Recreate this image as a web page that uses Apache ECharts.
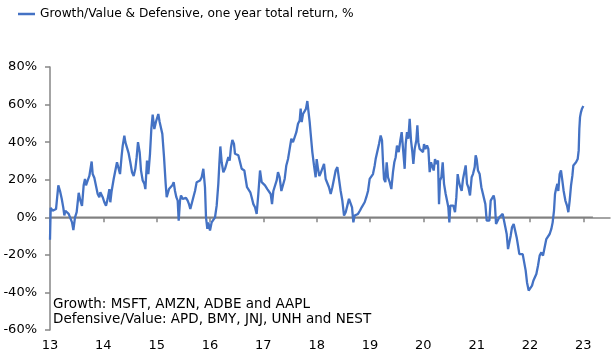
<!DOCTYPE html>
<html><head><meta charset="utf-8">
<script src="https://cdn.jsdelivr.net/npm/echarts@6/dist/echarts.min.js"></script>
<style>html,body{margin:0;padding:0;background:#fff}#c{width:612px;height:358px}</style>
</head><body><div id="c"></div>
<script>
const baseYear = 2013;
const xTickYears = [2013,2014,2015,2016,2017,2018,2019,2020,2021,2022,2023];
const yMin = -60, yMax = 80, yStep = 20;
const seriesName = 'Growth/Value & Defensive, one year total return, %';
const noteLines = ['Growth: MSFT, AMZN, ADBE and AAPL', 'Defensive/Value: APD, BMY, JNJ, UNH and NEST'];

// years since start of 2013
const t2013 = [0,0.013,0.05,0.081,0.113,0.156,0.188,0.219,0.25,0.269,0.288,0.319,0.35,0.381,0.413,0.438,0.469,0.5,0.538,0.569,0.6,0.631,0.656,0.675,0.706,0.738,0.781,0.8,0.831,0.863,0.894,0.925,0.944,0.988];
const v2013 = [-12,5,3.5,2.7,4.4,17,14,10,5,1,3.5,2.7,1.8,1.4,-2.7,-6.8,0,2.7,13,9,6,17,20.4,17,19.5,22,29.7,23,21,22,12.4,10.7,13.3,10.7];
const t2014 = [1.019,1.05,1.081,1.113,1.131,1.156,1.194,1.225,1.256,1.288,1.313,1.344,1.363,1.394,1.413,1.444,1.475,1.506,1.538,1.569,1.6,1.625,1.65,1.681,1.706,1.738,1.769,1.788,1.819,1.844,1.875,1.9,1.925,1.956,1.988];
const v2014 = [8,6.2,9.8,15,8,14,20.4,21.3,29.3,29.3,23,33,38,43.5,40,41,34,29.3,24,22,25.8,32,40,34.7,25,19.6,17.8,15,30.2,23,33.8,47,54.6,47,51];
const t2015 = [2.0,2.031,2.056,2.081,2.106,2.138,2.169,2.188,2.206,2.231,2.263,2.294,2.319,2.344,2.369,2.394,2.413,2.438,2.456,2.488,2.519,2.55,2.581,2.606,2.631,2.656,2.688,2.719,2.75,2.781,2.813,2.844,2.875,2.906,2.925,2.95,2.969];
const v2015 = [51.5,55,50.7,51.5,44.4,32,17.8,10.7,9.8,15,14,17,18.7,14,10.7,8.9,-1.8,9,11.6,9.8,10.7,10.3,8.9,7,4.4,3.6,10.7,14,18.7,18.7,19.6,21.3,25.8,16,0,-6.2,-2.7];
const t2016 = [3.0,3.031,3.063,3.094,3.125,3.156,3.175,3.194,3.219,3.25,3.281,3.313,3.344,3.369,3.394,3.419,3.45,3.469,3.5,3.531,3.563,3.594,3.625,3.644,3.669,3.694,3.725,3.756,3.781,3.813,3.844,3.875,3.906,3.938,3.969];
const v2016 = [-7,-2.7,-3.6,0,6.2,17.8,28.4,37.7,29.3,24,25.8,26.7,32,30.2,37.3,41.2,39,33.8,33,33,32,25.8,26.7,24.9,20.4,16,15,13.3,10.7,7,5.3,1.8,12.4,24.9,18.7];
const t2017 = [4.0,4.031,4.075,4.106,4.138,4.163,4.188,4.219,4.25,4.275,4.306,4.338,4.369,4.4,4.431,4.463,4.494,4.525,4.556,4.588,4.619,4.65,4.681,4.7,4.719,4.744,4.775,4.8,4.825,4.844,4.869,4.888,4.919,4.95,4.981];
const v2017 = [19.6,17,15,16,12.4,7,14,14,19.6,24,21.3,14,15,20.4,27.6,31,36.4,41.8,40,42.7,45.3,49.8,51.5,57.8,50.7,55,56.5,57.8,61.9,56.9,50.7,44.4,34.7,27.6,21.3];
const t2018 = [5.0,5.025,5.05,5.075,5.106,5.138,5.169,5.2,5.231,5.263,5.294,5.325,5.356,5.388,5.419,5.45,5.481,5.513,5.544,5.575,5.606,5.638,5.663,5.688,5.713,5.744,5.775,5.813,5.844,5.875,5.9,5.931,5.963,5.994];
const v2018 = [31,25.8,22,23.5,23,28.4,20.4,19.6,16,12.4,16,20.4,24.9,26.7,25.8,14,8.9,0.9,2.7,6.2,9.8,8.9,5.3,-2.7,0.9,0,1.8,3.6,5.3,6.2,8,10.7,14,20.4];
const t2019 = [6.025,6.056,6.088,6.106,6.138,6.169,6.2,6.225,6.244,6.263,6.288,6.313,6.338,6.369,6.4,6.431,6.456,6.481,6.506,6.538,6.569,6.594,6.619,6.65,6.669,6.694,6.719,6.744,6.769,6.794,6.813,6.838,6.869,6.888,6.906,6.931,6.963,6.994];
const v2019 = [19.6,23,27.6,31,31,39,43.5,41,29.3,20.4,18.7,29.3,21.3,18.7,15,24,29.3,32,38.2,34.7,41,45.3,44.4,25.8,39,45.3,41.8,52.4,41,34.7,28.4,36.4,41,48.9,40,36.4,35.6,34.7];
const t2020 = [7.013,7.038,7.069,7.094,7.119,7.144,7.169,7.194,7.219,7.244,7.275,7.294,7.313,7.338,7.363,7.388,7.419,7.444,7.469,7.488,7.506,7.531,7.563,7.594,7.619,7.644,7.669,7.694,7.719,7.744,7.769,7.794,7.819,7.844,7.875,7.906,7.931,7.963,7.981];
const v2020 = [39,36.4,38.2,36.4,24,29.3,28.4,24.9,31,28.4,30.2,7,19.6,21.3,29.3,17.8,12.4,8.9,5.3,-2.7,6.2,5.3,6.2,2.7,10.7,23,18.7,16,14,20.4,21.3,27.6,17.8,16,11.6,21.3,23,26.7,33];
const t2021 = [8.0,8.025,8.056,8.088,8.119,8.163,8.188,8.213,8.238,8.263,8.288,8.319,8.338,8.363,8.394,8.425,8.456,8.488,8.513,8.538,8.563,8.588,8.613,8.638,8.663,8.694,8.725,8.75,8.775,8.8,8.831,8.863,8.894,8.919,8.944,8.975];
const v2021 = [31,24.9,23,16,15,7,-1.8,-0.9,-1.8,8.9,9.8,11.6,8.9,-3.6,-2.7,0,0.9,1.8,2.7,-5.3,-8.9,-16.9,-13.3,-9.8,-5.3,-3.6,-4.4,-10.7,-15,-19.6,-19.6,-19.6,-18.7,-28.4,-34.7,-39];
const t2022 = [9.006,9.038,9.063,9.088,9.119,9.15,9.181,9.213,9.244,9.275,9.306,9.338,9.369,9.4,9.425,9.45,9.469,9.488,9.513,9.531,9.556,9.581,9.606,9.631,9.663,9.694,9.719,9.744,9.769,9.794,9.813,9.838,9.863,9.894,9.913,9.925,9.938,9.956,9.975,10.0];
const v2022 = [-40,-36.4,-33.8,-34.7,-30.2,-25.8,-20.4,-18.7,-20.4,-16,-11.6,-11.6,-8.9,-6.2,-2.7,3.6,12.4,15,17.8,14,23,24.9,19.6,14,8.9,6.2,2.7,8.9,16.9,22,27.6,26.7,29.3,31,35.6,47,53.3,56,57.8,59.2];

const zeroLineT = [0, 10.18];

const yearOffset = [].concat(t2013,t2014,t2015,t2016,t2017,t2018,t2019,t2020,t2021,t2022);
const returnPct = [].concat(v2013,v2014,v2015,v2016,v2017,v2018,v2019,v2020,v2021,v2022);
const lineData = yearOffset.map((t,i)=>[baseYear+t, returnPct[i]]);
const zeroData = zeroLineT.map(t=>[baseYear+t, 0]);

const FONT = 'DejaVu Sans';
const AX = '#868686';
const BLUE = '#4472C4';
const chart = echarts.init(document.getElementById('c'), null, {renderer:'canvas'});
chart.setOption({
  animation:false,
  backgroundColor:'#fff',
  textStyle:{fontFamily:FONT},
  grid:{left:50, right:2, top:67, bottom:28, containLabel:false},
  legend:{
    data:[{name:seriesName, icon:'rect'}], left:18, top:8, padding:0,
    itemWidth:17, itemHeight:2.5,
    itemStyle:{color:BLUE},
    textStyle:{fontFamily:FONT, fontSize:12.2, color:'#000'}
  },
  xAxis:{
    type:'value', min:2013, max:2023.5,
    axisLine:{lineStyle:{color:AX, width:1.5}},
    axisTick:{show:true, length:5, inside:false, customValues:xTickYears, lineStyle:{color:AX, width:1.5}},
    axisLabel:{customValues:xTickYears, formatter:v=>String(Math.round(v)-2000), fontFamily:FONT, fontSize:13, color:'#000', margin:9},
    splitLine:{show:false}
  },
  yAxis:{
    type:'value', min:yMin, max:yMax, interval:yStep,
    axisLine:{show:true, lineStyle:{color:AX, width:1.5}},
    axisTick:{show:true, length:5, lineStyle:{color:AX, width:1.5}},
    axisLabel:{formatter:v=>v+'%', fontFamily:FONT, fontSize:13, color:'#000', margin:13},
    splitLine:{show:false}
  },
  graphic:[{
    type:'text', left:53, top:297, z:10,
    style:{text:noteLines.join('\n'), font:'13.5px "DejaVu Sans"', fill:'#000', lineHeight:15}
  }],
  series:[
    {name:'zero', type:'line', data:zeroData, showSymbol:false, symbol:'none', silent:true,
     lineStyle:{color:'#808080', width:1.5}, z:1},
    {name:seriesName, type:'line', data:lineData, showSymbol:false, symbol:'none',
     lineStyle:{color:BLUE, width:2.3}, itemStyle:{color:BLUE}, z:2}
  ]
});
</script></body></html>
